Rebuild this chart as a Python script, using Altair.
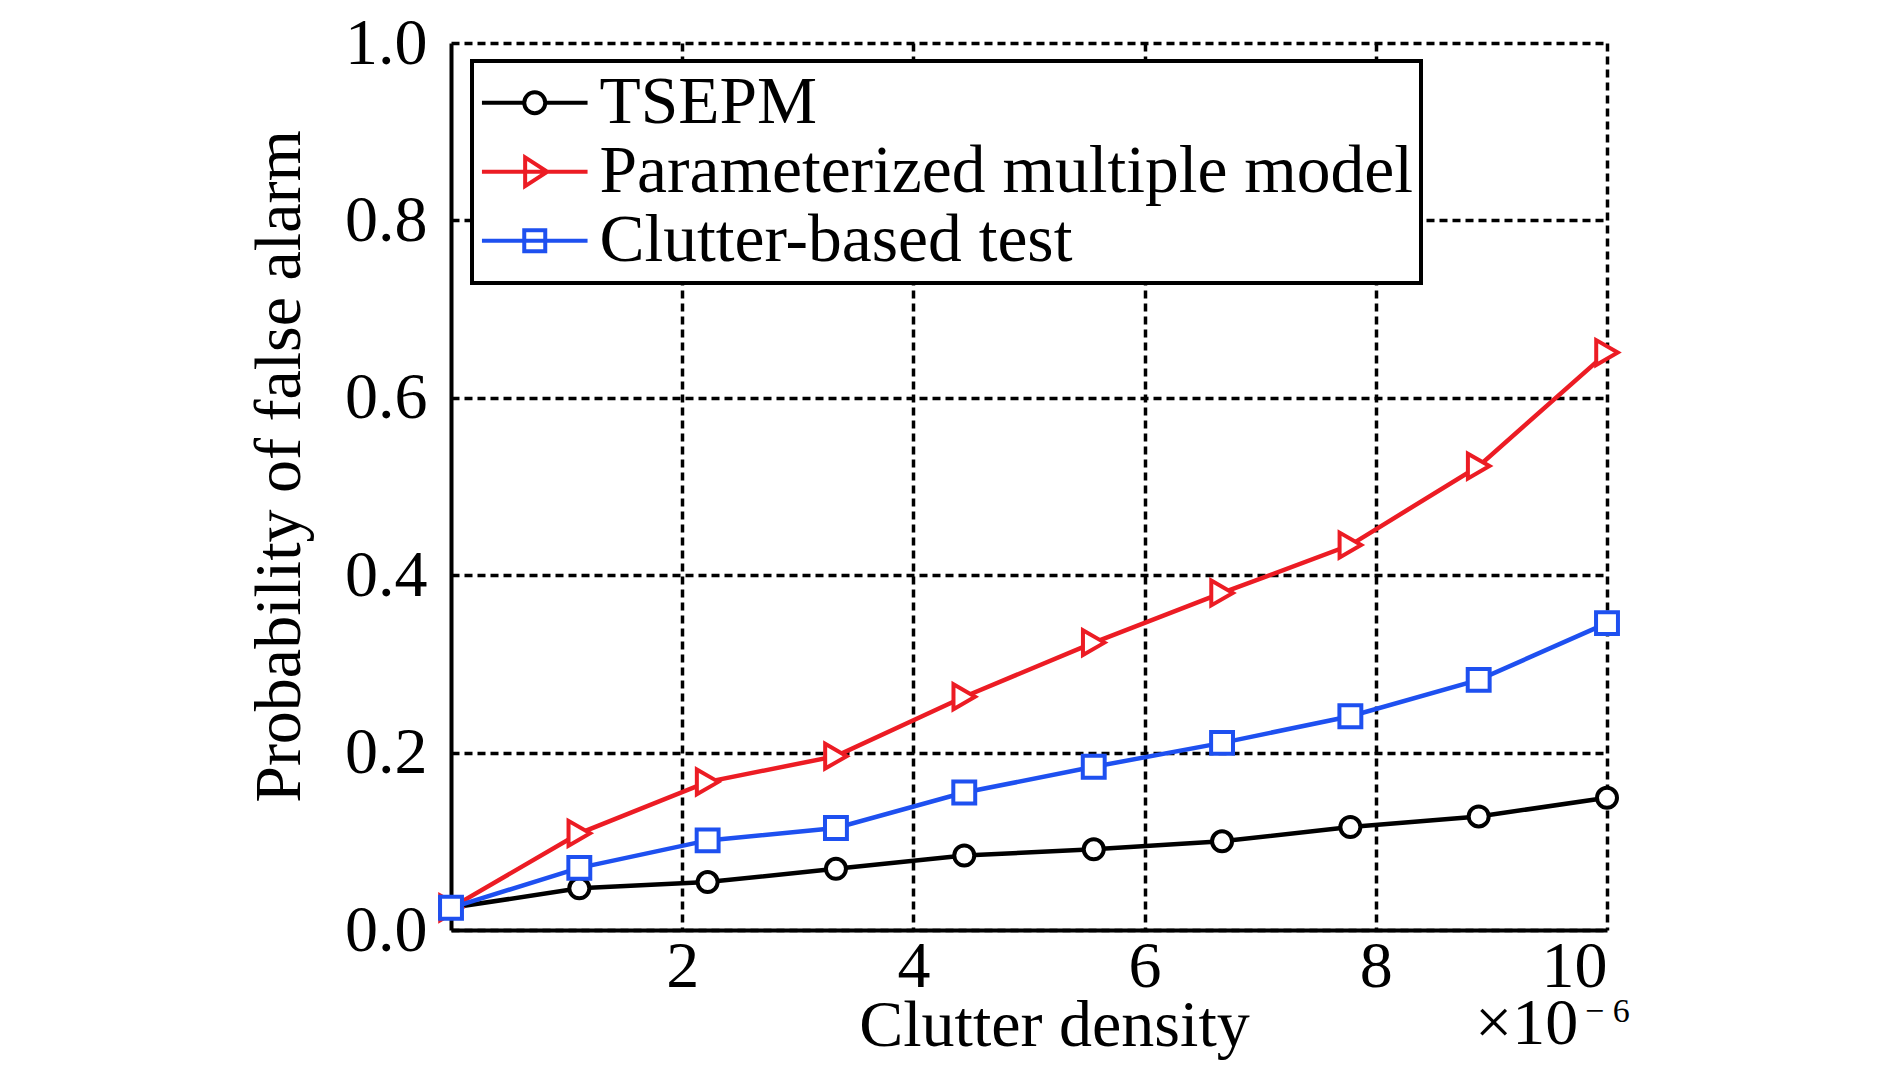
import altair as alt
import pandas as pd

# ---- data ----
x_vals = [0, 1.11, 2.22, 3.33, 4.44, 5.56, 6.67, 7.78, 8.89, 10]
tsepm = [0.025, 0.047, 0.054, 0.069, 0.084, 0.091, 0.100, 0.116, 0.128, 0.149]
pmm = [0.025, 0.109, 0.167, 0.196, 0.263, 0.324, 0.380, 0.434, 0.523, 0.651]
cbt = [0.025, 0.070, 0.101, 0.115, 0.155, 0.184, 0.211, 0.241, 0.282, 0.346]

series_names = ["TSEPM", "Parameterized multiple model", "Clutter-based test"]
series_colors = ["#000000", "#ec1c24", "#1e50f0"]
marker_shapes = ["circle", "triangle-right", "square"]
marker_sizes = [400, 620, 480]
# legend glyphs: a line segment with the marker on it (unit = 12 px)
legend_paths = [
    "M-4.4,0H-0.875M0.875,0H4.4M-0.875,0A0.875,0.875 0 1,1 0.875,0A0.875,0.875 0 1,1 -0.875,0Z",
    "M-4.4,0H4.4M-0.8,-1.2L1.05,0L-0.8,1.2Z",
    "M-4.4,0H4.4M-0.875,-0.875H0.875V0.875H-0.875Z",
]
x_ticks = [2, 4, 6, 8, 10]
y_ticks = [0.0, 0.2, 0.4, 0.6, 0.8, 1.0]
x_title = "Clutter density"
y_title = "Probability of false alarm"
exp_base = ["×10"]
exp_power = ["− 6"]

rows = []
for name, vals in zip(series_names, [tsepm, pmm, cbt]):
    for xv, yv in zip(x_vals, vals):
        rows.append({"density": xv, "pfa": yv, "series": name})
df = pd.DataFrame(rows)

FONT = "Liberation Serif"
W, H = 1156, 887

x_axis = alt.Axis(
    values=x_ticks, title=x_title, format="d",
    labelFont=FONT, labelFontSize=66, labelColor="black", labelPadding=4,
    labelBaseline="top",
    ticks=False, tickSize=0,
    domainColor="black", domainWidth=4,
    grid=True, gridColor="black", gridDash=[8, 5], gridWidth=3.5, gridOpacity=1,
    titleFont=FONT, titleFontSize=66, titleFontWeight="normal", titleColor="black",
    titleX=603, titleY=115, titleBaseline="alphabetic", titleAlign="center",
)
y_axis = alt.Axis(
    values=y_ticks, title=y_title, format=".1f",
    labelFont=FONT, labelFontSize=66, labelColor="black", labelPadding=24,
    ticks=False, tickSize=0,
    domainColor="black", domainWidth=4,
    grid=True, gridColor="black", gridDash=[8, 5], gridWidth=3.5, gridOpacity=1,
    titleFont=FONT, titleFontSize=66, titleFontWeight="normal", titleColor="black",
    titleX=-152, titleY=423, titleBaseline="alphabetic", titleAlign="center",
    titleAngle=270,
)
x_scale = alt.Scale(domain=[0, 10], nice=False, zero=False)
y_scale = alt.Scale(domain=[0, 1], nice=False)

color_scale = alt.Scale(domain=series_names, range=series_colors)

lines = alt.Chart(df).mark_line(strokeWidth=4.5).encode(
    x=alt.X("density:Q", scale=x_scale, axis=x_axis),
    y=alt.Y("pfa:Q", scale=y_scale, axis=y_axis),
    color=alt.Color("series:N", scale=color_scale, legend=None),
    detail="series:N",
)

point_layers = []
for name, shp, sz in zip(series_names, marker_shapes, marker_sizes):
    point_layers.append(
        alt.Chart(df).transform_filter(alt.datum.series == name)
        .mark_point(filled=False, fill="white", fillOpacity=1, shape=shp, size=sz,
                    strokeWidth=4, opacity=1)
        .encode(
            x="density:Q", y="pfa:Q",
            color=alt.Color("series:N", scale=color_scale, legend=None),
        )
    )

plot = alt.layer(lines, *point_layers)

# legend-only layer: its marks sit outside the x domain and are clipped away
legend_layer = alt.Chart(df).transform_calculate(hidden_x="-100").mark_point(
    filled=False, strokeWidth=4, clip=True, opacity=1
).encode(
    x=alt.X("hidden_x:Q", scale=x_scale, axis=x_axis),
    y=alt.Y("pfa:Q", scale=y_scale, axis=y_axis),
    color=alt.Color("series:N", scale=alt.Scale(domain=series_names, range=series_colors),
                    legend=alt.Legend(title=None, orient="none", legendX=21, legendY=18)),
    shape=alt.Shape("series:N", scale=alt.Scale(domain=series_names, range=legend_paths),
                    legend=alt.Legend(title=None, orient="none", legendX=21, legendY=18)),
)

base_txt = alt.Chart(pd.DataFrame({"t": exp_base})).mark_text(
    font=FONT, fontSize=66, align="left", baseline="alphabetic", color="black"
).encode(text="t:N", x=alt.value(1024), y=alt.value(1001))
pow_txt = alt.Chart(pd.DataFrame({"t": exp_power})).mark_text(
    font=FONT, fontSize=34, align="left", baseline="alphabetic", color="black"
).encode(text="t:N", x=alt.value(1134), y=alt.value(979))

chart = alt.layer(plot, legend_layer, base_txt, pow_txt).resolve_scale(
    color="independent", shape="independent"
).properties(
    width=W, height=H,
    autosize=alt.AutoSizeParams(type="none"),
    padding={"left": 443, "top": 35, "right": 260, "bottom": 136},
    background="white",
).configure_view(strokeWidth=0).configure_legend(
    padding=8, fillColor="white", strokeColor="black", strokeWidth=4,
    labelFont=FONT, labelFontSize=67.5, labelColor="black", labelLimit=2000,
    symbolSize=576, symbolStrokeWidth=4, symbolOpacity=1,
    symbolOffset=21, labelOffset=31,
    symbolFillColor="transparent", rowPadding=0,
)

chart.save("out.html", embed_options={"renderer": "svg", "actions": False})
